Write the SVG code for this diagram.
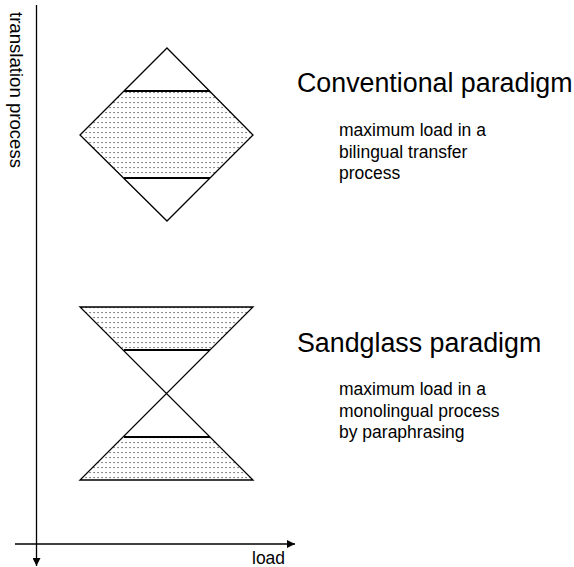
<svg xmlns="http://www.w3.org/2000/svg" width="574" height="567" viewBox="0 0 574 567">
<style>
.t{font-family:"Liberation Sans",Arial,sans-serif;fill:#000}
.title{font-size:26.8px}
.sub{font-size:17.5px}
.vt{font-size:18.6px}
.ln{stroke:#000;stroke-width:1.3;fill:none}
.band{stroke:#000;stroke-width:2;fill:none}
.dots{fill:url(#dots);stroke:none}
</style>
<defs>
<pattern id="dots" x="0" y="0" width="4" height="5" patternUnits="userSpaceOnUse">
<rect x="1.5" y="2" width="1.1" height="1.1" fill="#333"/>
</pattern>
<marker id="arr" viewBox="0 0 10 10" refX="10" refY="5" markerWidth="9" markerHeight="8" markerUnits="userSpaceOnUse" orient="auto">
<path d="M0,0 L10,5 L0,10 Z" fill="#000"/>
</marker>
</defs>
<g id="connectors">
<line class="ln" x1="36.5" y1="5" x2="36.5" y2="566" marker-end="url(#arr)"/>
<line class="ln" x1="15" y1="544" x2="295" y2="544" marker-end="url(#arr)"/>
</g>
<g id="axis-labels">
<text class="t vt" transform="translate(10,12) rotate(90)">translation process</text>
<text class="t sub" x="252" y="564">load</text>
</g>
<g id="conventional">
<polygon class="dots" points="124,91 210,91 253,135 210,178 124,178 80,135"/>
<polygon class="ln" points="167,48 253,135 167,221 80,135"/>
<line class="band" x1="124" y1="91" x2="210" y2="91"/>
<line class="band" x1="124" y1="178" x2="210" y2="178"/>
<text class="t title" x="297" y="92">Conventional paradigm</text>
<text class="t sub" x="339" y="136">maximum load in a</text>
<text class="t sub" x="339" y="157.5">bilingual transfer</text>
<text class="t sub" x="339" y="179">process</text>
</g>
<g id="sandglass">
<polygon class="dots" points="80,307 253,307 210,350 124,350"/>
<polygon class="dots" points="124,437 210,437 253,480 80,480"/>
<polygon class="ln" points="80,307 253,307 80,480 253,480"/>
<line class="band" x1="124" y1="350" x2="210" y2="350"/>
<line class="band" x1="124" y1="437" x2="210" y2="437"/>
<text class="t title" x="297" y="352">Sandglass paradigm</text>
<text class="t sub" x="339" y="395">maximum load in a</text>
<text class="t sub" x="339" y="416.5">monolingual process</text>
<text class="t sub" x="339" y="438">by paraphrasing</text>
</g>
</svg>
